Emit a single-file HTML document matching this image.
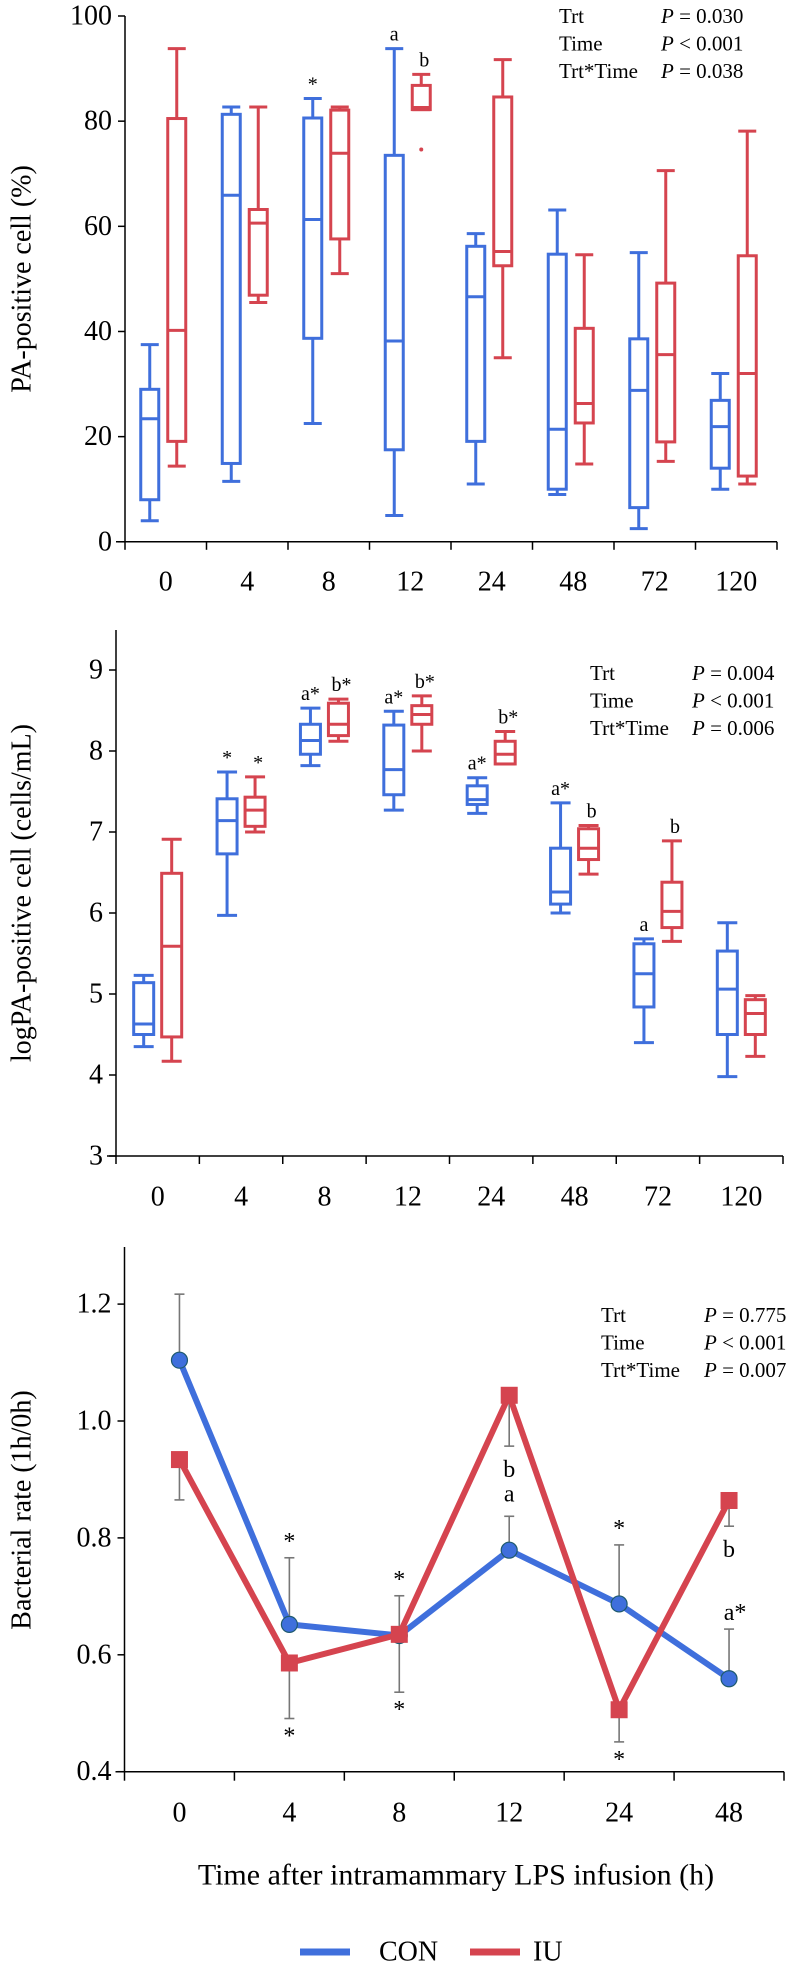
<!DOCTYPE html>
<html><head><meta charset="utf-8">
<style>
html,body{margin:0;padding:0;background:#fff;}
svg{display:block;font-family:"Liberation Serif",serif;}
</style></head>
<body>
<svg id="fig" width="796" height="1966" viewBox="0 0 796 1966" xmlns="http://www.w3.org/2000/svg"></svg>
<script>
// ---------- Panel A data ----------
const catsA = ["0","4","8","12","24","48","72","120"];
const ticksA = [0,20,40,60,80,100];
// [min, q1, median, q3, max]
const conA = [[4,8,23.4,29,37.5],[11.5,14.9,65.9,81.3,82.7],[22.5,38.7,61.3,80.6,84.3],[5,17.5,38.2,73.5,93.8],[11,19.1,46.6,56.2,58.6],[9,10,21.4,54.7,63.1],[2.5,6.5,28.8,38.6,55],[10,14,21.9,26.9,32]];
const iuA = [[14.4,19.1,40.2,80.5,93.8],[45.5,46.9,60.6,63.2,82.7],[51,57.6,73.9,82.1,82.7],[82.2,82.2,82.6,86.8,88.9],[35,52.5,55.2,84.6,91.7],[14.8,22.6,26.3,40.6,54.6],[15.3,19,35.6,49.2,70.6],[11,12.5,32,54.4,78.1]];
const outIuA = [null,null,null,74.6,null,null,null,null];
const conLabA = ["","","*","a","","","",""];
const iuLabA = ["","","","b","","","",""];
// ---------- Panel B data ----------
const catsB = ["0","4","8","12","24","48","72","120"];
const ticksB = [3,4,5,6,7,8,9];
const conB = [[4.35,4.5,4.63,5.14,5.23],[5.97,6.73,7.14,7.41,7.74],[7.82,7.96,8.13,8.33,8.53],[7.27,7.46,7.77,8.32,8.49],[7.23,7.34,7.40,7.57,7.67],[6.0,6.11,6.26,6.80,7.36],[4.4,4.84,5.25,5.62,5.68],[3.98,4.5,5.06,5.53,5.88]];
const iuB = [[4.17,4.47,5.59,6.49,6.91],[7.0,7.07,7.27,7.43,7.68],[8.12,8.19,8.33,8.59,8.64],[8.0,8.33,8.45,8.56,8.68],[7.84,7.84,7.96,8.12,8.24],[6.48,6.66,6.80,7.04,7.08],[5.65,5.82,6.02,6.38,6.89],[4.23,4.5,4.76,4.93,4.98]];
const conLabB = ["","*","a*","a*","a*","a*","a",""];
const iuLabB = ["","*","b*","b*","b*","b","b",""];
// ---------- Panel C data ----------
const catsC = ["0","4","8","12","24","48"];
const ticksC = [0.4,0.6,0.8,1.0,1.2];
const conC = [1.104,0.652,0.633,0.779,0.687,0.559];
const iuC = [0.934,0.586,0.635,1.044,0.506,0.864];
// error bar end values
const conErrC = [1.217,0.766,0.701,0.837,0.788,0.644];
const iuErrC = [0.865,0.491,0.536,0.957,0.451,0.820];
const labAboveC = ["","*","*","a","*","a*"];
const labBelowC = ["","*","*","","*",""];
const labRedC = ["","","","b","","b"];

const BLUE="#3f6fdc", RED="#d5444f", svg=document.getElementById('fig');
const NS="http://www.w3.org/2000/svg";
function mk(tag,attrs,parent){const e=document.createElementNS(NS,tag);for(const k in attrs)e.setAttribute(k,attrs[k]);(parent||svg).appendChild(e);return e;}
function txt(s,x,y,size,parent,anchor,extra){const t=mk('text',Object.assign({x:x,y:y,'font-size':size,'text-anchor':anchor||'middle','dominant-baseline':'central',fill:'#000'},extra||{}),parent);t.textContent=s;return t;}

function ptext(g,x1,x2,y0,vals){
  const names=["Trt","Time","Trt*Time"];
  for(let i=0;i<3;i++){
    const y=y0+i*27.5;
    const a=txt(names[i],x1,y,21,g,'start');
    
    
    const t=mk('text',{x:x2,y:y,'font-size':21,'dominant-baseline':'central'},g);
    
    
    const it=mk('tspan',{'font-style':'italic'},t);it.textContent='P';
    const r=mk('tspan',{},t);r.textContent=vals[i];
  }
}

function boxPanel(name,cats,ticks,conD,iuD,conLab,iuLab,ax,y,tickFmt,title,titleY,statX1,statX2,statY,stats,outl){
  const g=mk('g',{});
  
  
  const step=(ax.x1-ax.x0)/cats.length;
  const cx=i=>ax.x0+step*(i+0.5);
  // axes
  const yl=mk('line',{x1:ax.x0,y1:ax.top,x2:ax.x0,y2:y(ticks[0]),stroke:'#000','stroke-width':1.5},g);
  
  
  const xl=mk('line',{x1:ax.x0-9,y1:y(ticks[0]),x2:ax.x1,y2:y(ticks[0]),stroke:'#000','stroke-width':1.5},g);
  
  
  ticks.forEach(v=>{
    mk('line',{x1:ax.x0-7,y1:y(v),x2:ax.x0,y2:y(v),stroke:'#000','stroke-width':1.5},g);
    const t=txt(tickFmt(v),ax.x0-13,y(v),28,g,'end');
    
    
  });
  for(let i=0;i<=cats.length;i++){
    mk('line',{x1:ax.x0+step*i,y1:y(ticks[0]),x2:ax.x0+step*i,y2:y(ticks[0])+8,stroke:'#000','stroke-width':1.5},g);
  }
  cats.forEach((c,i)=>{
    const t=txt(c,cx(i),ax.labY,28,g);
    
    
  });
  const yt=txt(title,0,0,28,g,'middle',{transform:`translate(22,${titleY}) rotate(-90)`});
  
  
  function box(d,x,col,nm){
    const w=ax.bw, bg=mk('g',{stroke:col,'stroke-width':3,fill:'none'},g);
    
    
    mk('line',{x1:x,y1:y(d[4]),x2:x,y2:y(d[3])},bg);
    mk('line',{x1:x,y1:y(d[0]),x2:x,y2:y(d[1])},bg);
    mk('line',{x1:x-w/2,y1:y(d[4]),x2:x+w/2,y2:y(d[4])},bg);
    mk('line',{x1:x-w/2,y1:y(d[0]),x2:x+w/2,y2:y(d[0])},bg);
    mk('rect',{x:x-w/2,y:y(d[3]),width:w,height:Math.max(0.5,y(d[1])-y(d[3]))},bg);
    mk('line',{x1:x-w/2,y1:y(d[2]),x2:x+w/2,y2:y(d[2])},bg);
  }
  cats.forEach((c,i)=>{
    const xb=cx(i)+ax.ob, xr=cx(i)+ax.or;
    box(conD[i],xb,BLUE,'con-box-'+c);
    box(iuD[i],xr,RED,'iu-box-'+c);
    if(outl&&outl[i]!=null){const o=mk('circle',{cx:xr,cy:y(outl[i]),r:2,fill:RED},g);
      
      }
    if(conLab[i]){const t=txt(conLab[i],xb,y(conD[i][4])-14,20,g);
      
      }
    if(iuLab[i]){const t=txt(iuLab[i],xr+3,y(iuD[i][4])-14,20,g);
      
      }
  });
  ptext(g,statX1,statX2,statY,stats);
}

// Panel A
const yA=v=>541.8-(v/100)*525.8;
boxPanel('panel-pa-percent',catsA,ticksA,conA,iuA,conLabA,iuLabA,
  {x0:125,x1:777,top:16,labY:582,bw:18,ob:-16,or:11},yA,v=>String(v),
  'PA-positive cell (%)',279,559,661,16,[' = 0.030',' < 0.001',' = 0.038'],outIuA);
// Panel B
const yB=v=>1156-(v-3)*81;
boxPanel('panel-log-pa',catsB,ticksB,conB,iuB,conLabB,iuLabB,
  {x0:116,x1:783,top:630,labY:1197,bw:20,ob:-14,or:14},yB,v=>String(v),
  'logPA-positive cell (cells/mL)',893,590,692,673,[' = 0.004',' < 0.001',' = 0.006'],null);

// Panel C
(function(){
  const g=mk('g',{});
  
  
  const x0=124.5,x1=784,step=(x1-x0)/catsC.length;
  const cx=i=>x0+step*(i+0.5);
  const y=v=>1771.7-(v-0.4)*584.5;
  const ya=mk('line',{x1:x0,y1:1247,x2:x0,y2:y(0.4),stroke:'#000','stroke-width':1.5},g);
  
  
  const xa=mk('line',{x1:x0-9,y1:y(0.4),x2:x1,y2:y(0.4),stroke:'#000','stroke-width':1.5},g);
  
  
  ticksC.forEach(v=>{
    mk('line',{x1:x0-7,y1:y(v),x2:x0,y2:y(v),stroke:'#000','stroke-width':1.5},g);
    const t=txt(v.toFixed(1),x0-13,y(v),28,g,'end');
    
    
  });
  for(let i=0;i<=catsC.length;i++) mk('line',{x1:x0+step*i,y1:y(0.4),x2:x0+step*i,y2:y(0.4)+9,stroke:'#000','stroke-width':1.5},g);
  catsC.forEach((c,i)=>{const t=txt(c,cx(i),1813,28,g);
    
    });
  const yt=txt('Bacterial rate (1h/0h)',0,0,28,g,'middle',{transform:'translate(22,1510) rotate(-90)'});
  
  
  // error bars
  catsC.forEach((c,i)=>{
    [[conC[i],conErrC[i]],[iuC[i],iuErrC[i]]].forEach(p=>{
      const e=mk('g',{stroke:'#777','stroke-width':1.6},g);
      
      
      mk('line',{x1:cx(i),y1:y(p[0]),x2:cx(i),y2:y(p[1])},e);
      mk('line',{x1:cx(i)-5,y1:y(p[1]),x2:cx(i)+5,y2:y(p[1])},e);
    });
  });
  const lineC=mk('polyline',{points:conC.map((v,i)=>cx(i)+','+y(v)).join(' '),fill:'none',stroke:BLUE,'stroke-width':6,'stroke-linejoin':'round'},g);
  
  
  conC.forEach((v,i)=>{const c=mk('circle',{cx:cx(i),cy:y(v),r:8,fill:BLUE,stroke:'#1e5a6e','stroke-width':1.2},g);
    
    });
  const lineI=mk('polyline',{points:iuC.map((v,i)=>cx(i)+','+y(v)).join(' '),fill:'none',stroke:RED,'stroke-width':6,'stroke-linejoin':'round'},g);
  
  
  iuC.forEach((v,i)=>{const r=mk('rect',{x:cx(i)-8.5,y:y(v)-8.5,width:17,height:17,fill:RED},g);
    
    });
  // annotations
  catsC.forEach((c,i)=>{
    const hi=Math.max(conErrC[i],iuErrC[i],conC[i],iuC[i]);
    const lo=Math.min(conErrC[i],iuErrC[i],conC[i],iuC[i]);
    if(labAboveC[i]){
      let yy=y(Math.max(conErrC[i],conC[i]))-16, xx=cx(i);
      if(labAboveC[i]==='a'&&labRedC[i]){yy=y(conErrC[i])-22;}
      if(labAboveC[i]==='a*'){xx=cx(i)+6;}
      const t=txt(labAboveC[i],xx,yy,24,g);
      
      
    }
    if(labBelowC[i]){const t=txt(labBelowC[i],cx(i),y(lo)+18,24,g);
      
      }
    if(labRedC[i]){const t=txt(labRedC[i],cx(i),y(iuErrC[i])+24,24,g);
      
      }
  });
  ptext(g,601,704,1315,[' = 0.775',' < 0.001',' = 0.007']);
  const xt=txt('Time after intramammary LPS infusion (h)',456,1875,30,g);
  
  
  // legend
  const lg=mk('g',{},g);
  
  
  const l1=mk('line',{x1:300,y1:1952,x2:350,y2:1952,stroke:BLUE,'stroke-width':7},lg);
  
  
  const t1=txt('CON',379,1952,28,lg,'start');
  
  
  const l2=mk('line',{x1:470,y1:1952,x2:520,y2:1952,stroke:RED,'stroke-width':7},lg);
  
  
  const t2=txt('IU',533,1952,28,lg,'start');
  
  
})();
</script>
</body></html>
